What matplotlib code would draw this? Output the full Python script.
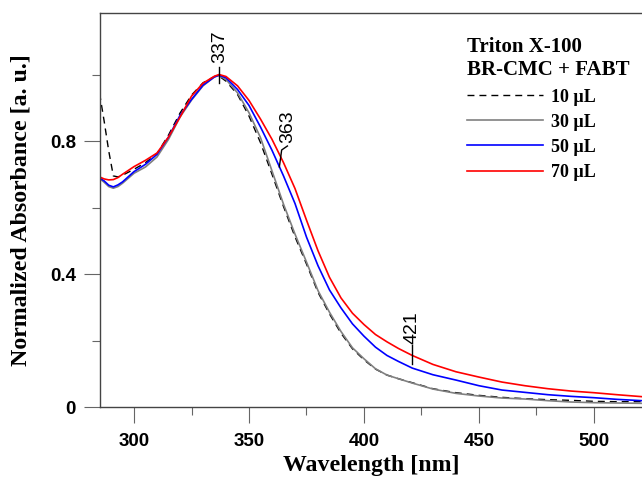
import numpy as np
import matplotlib
matplotlib.use('Agg')
import matplotlib.pyplot as plt
from matplotlib.ticker import MultipleLocator

# wavelength grid [nm] and normalized absorbance
wl = [285, 287, 289, 291, 293, 295, 300, 305, 310, 315, 320, 325, 330, 335, 337,
      340, 345, 350, 355, 360, 365, 370, 375, 380, 385, 390, 395, 400, 405, 410,
      415, 421, 430, 440, 450, 460, 470, 480, 490, 500, 510, 521]

abs_10 = [0.944, 0.86, 0.77, 0.695, 0.692, 0.697, 0.715, 0.735, 0.762, 0.818, 0.884,
          0.938, 0.975, 0.994, 0.995, 0.98, 0.94, 0.875, 0.795, 0.70, 0.603, 0.512,
          0.43, 0.345, 0.28, 0.222, 0.175, 0.142, 0.114, 0.096, 0.085, 0.073, 0.055,
          0.043, 0.035, 0.029, 0.025, 0.022, 0.020, 0.017, 0.016, 0.016]
abs_30 = [0.687, 0.676, 0.663, 0.658, 0.663, 0.673, 0.703, 0.722, 0.752, 0.805, 0.872,
          0.923, 0.966, 0.993, 0.997, 0.985, 0.945, 0.885, 0.81, 0.71, 0.61, 0.52,
          0.436, 0.35, 0.285, 0.227, 0.178, 0.145, 0.115, 0.096, 0.085, 0.072, 0.054,
          0.041, 0.033, 0.027, 0.024, 0.019, 0.015, 0.013, 0.012, 0.011]
abs_50 = [0.689, 0.680, 0.667, 0.662, 0.668, 0.677, 0.708, 0.730, 0.760, 0.812, 0.877,
          0.925, 0.968, 0.993, 0.998, 0.99, 0.955, 0.907, 0.842, 0.772, 0.695, 0.612,
          0.511, 0.425, 0.352, 0.298, 0.25, 0.213, 0.18, 0.155, 0.137, 0.117, 0.097,
          0.081, 0.064, 0.051, 0.044, 0.037, 0.032, 0.028, 0.023, 0.019]
abs_70 = [0.692, 0.686, 0.683, 0.684, 0.690, 0.700, 0.723, 0.742, 0.764, 0.812, 0.872,
          0.935, 0.974, 0.995, 1.0, 0.994, 0.966, 0.922, 0.866, 0.805, 0.735, 0.657,
          0.562, 0.47, 0.39, 0.328, 0.282, 0.248, 0.218, 0.196, 0.176, 0.155, 0.128,
          0.106, 0.09, 0.075, 0.064, 0.055, 0.048, 0.043, 0.037, 0.031]

labels = ['10 µL', '30 µL', '50 µL', '70 µL']

sans = 'Liberation Sans'
serif = 'Liberation Serif'

fig = plt.figure(figsize=(6.42, 4.78), dpi=100)
ax = fig.add_axes([100/642, 71/478, 542/642, 394/478])

ax.plot(wl, abs_10, color='black', lw=1.0, dashes=(5, 3.6), label=labels[0])
ax.plot(wl, abs_30, color='#808080', lw=1.2, label=labels[1])
ax.plot(wl, abs_50, color='#0000ff', lw=1.2, label=labels[2])
ax.plot(wl, abs_70, color='#ff0000', lw=1.2, label=labels[3])

ax.set_xlim(285.2, 520.9)
ax.set_ylim(0, 1.185)

ax.xaxis.set_major_locator(MultipleLocator(50))
ax.xaxis.set_minor_locator(MultipleLocator(25))
ax.set_yticks([0, 0.4, 0.8])
ax.set_yticklabels(['0', '0.4', '0.8'])
ax.set_yticks([0.2, 0.6, 1.0], minor=True)

for s in ['left', 'bottom', 'top']:
    ax.spines[s].set_color('#444444')
    ax.spines[s].set_linewidth(1.0)
ax.spines['right'].set_visible(False)

ax.tick_params(which='major', direction='out', length=11.5, width=0.8, color='#666666')
ax.tick_params(which='minor', direction='out', length=5.8, width=0.8, color='#666666')
ax.tick_params(axis='x', which='major', pad=7.5)
ax.tick_params(axis='y', which='major', pad=5.8)
for t in ax.get_xticklabels() + ax.get_yticklabels():
    t.set_fontfamily(sans)
    t.set_fontweight('bold')
    t.set_fontsize(13.5)

ax.set_xlabel('Wavelength [nm]', fontfamily=serif, fontweight='bold', fontsize=17.2, va='top')
ax.xaxis.set_label_coords(0.5, -0.122)
ax.set_ylabel('Normalized Absorbance [a. u.]', fontfamily=serif, fontweight='bold', fontsize=17.2)
ax.yaxis.set_label_coords(-0.127, 0.5)

# peak markers
ax.plot([337, 337], [0.974, 1.023], color='black', lw=1.0)
ax.text(337.2, 1.036, '337', rotation=90, ha='center', va='bottom',
        fontfamily=sans, fontsize=14)
ax.plot([363.2, 364.2, 366.7], [0.722, 0.773, 0.785], color='black', lw=1.0)
ax.text(366.7, 0.793, '363', rotation=90, ha='center', va='bottom',
        fontfamily=sans, fontsize=14)
ax.plot([420.9, 420.9], [0.129, 0.186], color='black', lw=1.0)
ax.text(420.9, 0.19, '421', rotation=90, ha='center', va='bottom',
        fontfamily=sans, fontsize=14)

leg = ax.legend(loc='upper left', bbox_to_anchor=(0.677, 0.938), frameon=False,
                title='Triton X-100\nBR-CMC + FABT', alignment='left',
                prop={'family': serif, 'weight': 'bold', 'size': 13},
                title_fontproperties={'family': serif, 'weight': 'bold', 'size': 15},
                handlelength=4.2, handletextpad=0.45, labelspacing=0.45,
                borderpad=0, borderaxespad=0)
leg.get_title().set_multialignment('left')

fig.savefig('out.png', dpi=100)
